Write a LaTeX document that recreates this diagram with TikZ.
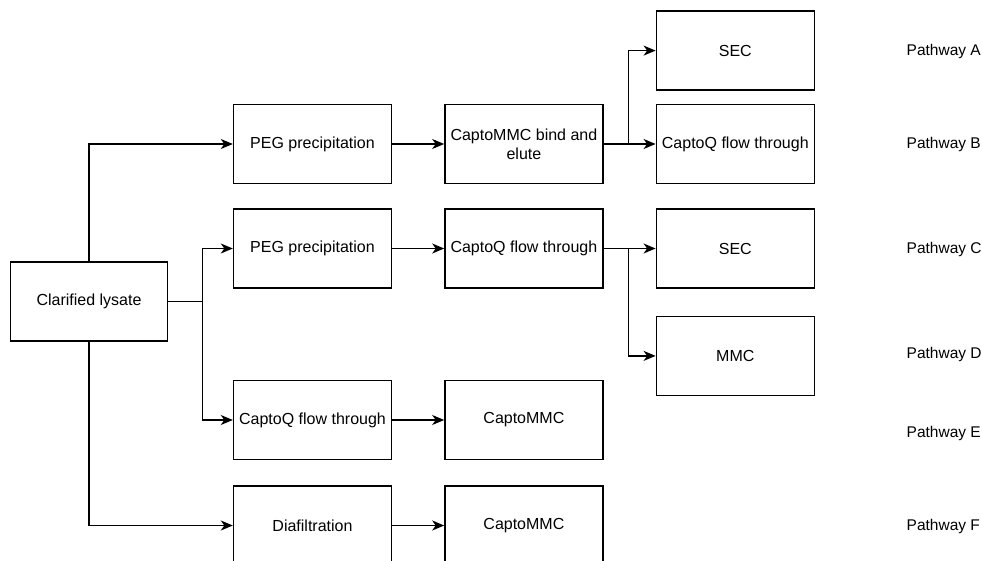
\documentclass[tikz,border=0pt]{standalone}
\usepackage{fontspec}
\setmainfont{Liberation Sans}
\usetikzlibrary{positioning,arrows.meta}

\begin{document}
\begin{tikzpicture}[x=1pt, y=-1pt,
                    >={Stealth[length=12pt, width=10pt, inset=3.5pt]},
                    every path/.style={line width=1.4pt},
                    stepbox/.style={draw, align=center, minimum width=158pt, minimum height=79pt,
                                    inner sep=2pt, font=\fontsize{16}{19}\selectfont},
                    pathlabel/.style={anchor=west, inner sep=0pt, font=\fontsize{15.5}{19}\selectfont}]
\useasboundingbox (0,0) rectangle (982,561);
\node[stepbox, minimum width=157pt] (lysate) at (89,301.5) {Clarified lysate};
% pathways A and B
\node[stepbox] (pegA) at (312.5,144) {PEG precipitation};
\node[stepbox, right=52pt of pegA] (mmcA) {CaptoMMC bind and\\elute};
\node[stepbox, right=52pt of mmcA] (qB) {CaptoQ flow through};
\node[stepbox, above=13pt of qB] (secA) {SEC};
% pathways C and D
\node[stepbox] (pegC) at (312.5,248.5) {PEG precipitation};
\node[stepbox, right=52pt of pegC] (qC) {CaptoQ flow through};
\node[stepbox, right=52pt of qC] (secC) {SEC};
\node[stepbox, below=27pt of secC] (mmcD) {MMC};
% pathway E
\node[stepbox] (qE) at (312.5,420) {CaptoQ flow through};
\node[stepbox, right=52pt of qE] (mmcE) {CaptoMMC};
% pathway F
\node[stepbox] (dia) at (312.5,525.5) {Diafiltration};
\node[stepbox, right=52pt of dia] (mmcF) {CaptoMMC};
% labels
\node[pathlabel] (pwA) at (906,51.5) {Pathway A};
\node[pathlabel] (pwB) at (906,144) {Pathway B};
\node[pathlabel] (pwC) at (906,249) {Pathway C};
\node[pathlabel] (pwD) at (906,354) {Pathway D};
\node[pathlabel] (pwE) at (906,433) {Pathway E};
\node[pathlabel] (pwF) at (906,526) {Pathway F};
% connectors
\coordinate[right=34pt of lysate.east] (split);
\coordinate[right=25pt of mmcA.east] (forkA);
\coordinate[right=25pt of qC.east] (forkC);
\draw[->] (lysate.north) |- (pegA.west);
\draw (lysate.east) -- (split);
\draw[->] (split) |- (pegC.west);
\draw[->] (split) |- (qE.west);
\draw[->] (lysate.south) |- (dia.west);
\draw[->] (pegA) -- (mmcA);
\draw[->] (mmcA) -- (qB);
\draw[->] (forkA) |- (secA.west);
\draw[->] (pegC) -- (qC);
\draw[->] (qC) -- (secC);
\draw[->] (forkC) |- (mmcD.west);
\draw[->] (qE) -- (mmcE);
\draw[->] (dia) -- (mmcF);
\end{tikzpicture}
\end{document}
